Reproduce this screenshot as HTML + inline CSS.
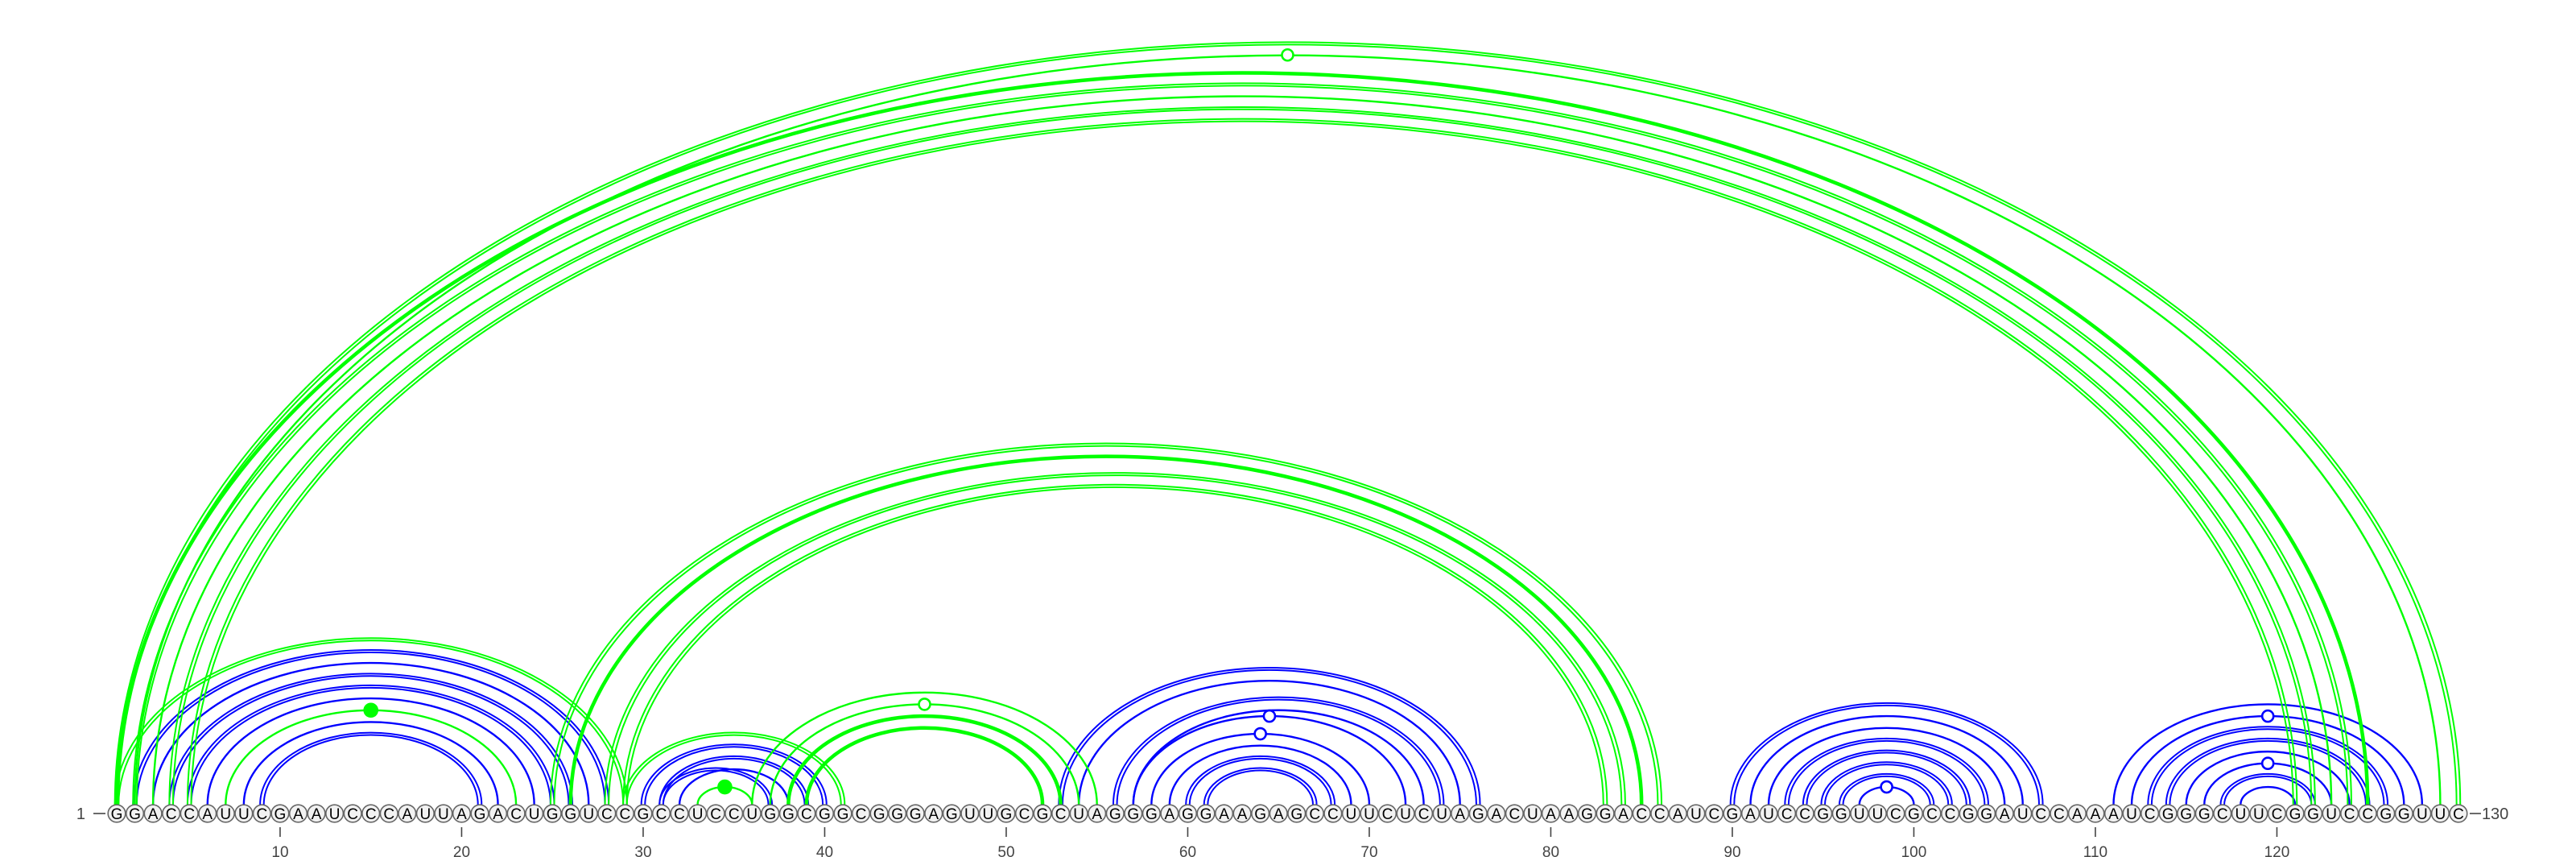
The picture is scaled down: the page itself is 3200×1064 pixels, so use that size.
<!DOCTYPE html>
<html><head><meta charset="utf-8"><style>
html,body{margin:0;padding:0;background:#fff;}
svg{display:block;}
text{font-family:"Liberation Sans",sans-serif;}
</style></head><body>
<svg id="chart" width="3200" height="1064" viewBox="0 0 3200 1064" xmlns="http://www.w3.org/2000/svg">
<g id="arcs"></g>
<g id="nts"></g>
<g id="axis"></g>
</svg>
<script>
const sequence = "GGACCAUUCGAAUCCCAUUAGACUGGUCCGCCUCCUGGCGGCGGGAGUUGCGCUAGGGAGGAAGAGCCUUCUCUAGACUAAGGACCAUCGAUCCGGUUCGCCGGAUCCAAAUCGGGCUUCGGUCCGGUUC";
// pairs: [i, j, style]  style: s single, d double, t thick ; marker: o open, f filled
const greenPairs = [[1,130,"d"],[2,129,"s","o"],[1,125,"t"],[2,124,"d"],[3,123,"s"],[4,122,"d"],[5,121,"d"],
 [25,86,"d"],[26,85,"t"],[28,84,"d"],[29,83,"d"],[1,29,"d"],[29,41,"d"],
 [36,55,"s"],[37,54,"s","o"],[38,53,"t"],[39,52,"t"],[33,36,"s","f"],[7,23,"s","f"]];
const bluePairs = [[2,28,"d"],[3,27,"s"],[4,26,"d"],[5,25,"d"],[6,24,"s"],[8,22,"s"],[9,21,"d"],
 [30,40,"d"],[31,39,"d"],[32,38,"s"],[31,37,"d"],
 [53,76,"d"],[54,75,"s"],[56,74,"d"],[57,73,"s"],[57,72,"s","o"],[58,70,"s","o"],[59,69,"s"],[60,68,"d"],[61,67,"d"],
 [90,107,"d"],[91,106,"s"],[92,105,"s"],[93,104,"d"],[94,103,"d"],[95,102,"d"],[96,101,"d"],[97,100,"s","o"],
 [111,128,"s"],[112,127,"s","o"],[113,126,"d"],[114,125,"d"],[115,124,"s"],[116,123,"s","o"],[117,122,"d"],[118,121,"s"]];
const tickPositions = [10,20,30,40,50,60,70,80,90,100,110,120];

const NS="http://www.w3.org/2000/svg";
const X0=145, DX=22.55, CY=1010, BASE=999, RATIO=0.65;
function xPos(k){return X0+(k-1)*DX;}
function mk(tag,attrs,parent){const e=document.createElementNS(NS,tag);for(const k in attrs)e.setAttribute(k,attrs[k]);parent.appendChild(e);return e;}
const arcs=document.getElementById('arcs');
function arcPath(x1,x2){const rx=(x2-x1)/2, ry=rx*RATIO;return `M${x1},${BASE} A${rx},${ry} 0 0 1 ${x2},${BASE}`;}
function drawPairs(list,color,name){
  list.forEach(p=>{
    const x1=xPos(p[0]), x2=xPos(p[1]);
    const g=mk('g',{},arcs);
    
    
    if(p[2]==="d"){
      mk('path',{d:arcPath(x1-2.3,x2+2.3),fill:'none',stroke:color,'stroke-width':2},g);
      mk('path',{d:arcPath(x1+2.3,x2-2.3),fill:'none',stroke:color,'stroke-width':2},g);
    } else if(p[2]==="t"){
      mk('path',{d:arcPath(x1,x2),fill:'none',stroke:color,'stroke-width':4.5},g);
    } else {
      mk('path',{d:arcPath(x1,x2),fill:'none',stroke:color,'stroke-width':2.4},g);
    }
    if(p[3]){
      const cx=(x1+x2)/2, cy=BASE-(x2-x1)/2*RATIO;
      const m=mk('circle',{cx:cx,cy:cy,r:p[3]==="f"?8:7,fill:p[3]==="f"?color:'#fff',stroke:color,'stroke-width':2.6},g);
      
      
    }
  });
}
drawPairs(bluePairs,'#0000ff','blue-arc');
drawPairs(greenPairs,'#00ff00','green-arc');

const nts=document.getElementById('nts');
for(let i=0;i<sequence.length;i++){
  const g=mk('g',{},nts);
  
  
  mk('circle',{cx:xPos(i+1),cy:CY,r:10.8,fill:'#f2f2f2',stroke:'#666','stroke-width':1.6},g);
  const t=mk('text',{x:xPos(i+1),y:CY+7,'text-anchor':'middle','font-size':19,fill:'#000'},g);
  t.textContent=sequence[i];
}
const axis=document.getElementById('axis');
tickPositions.forEach(p=>{
  const l=mk('line',{x1:xPos(p),x2:xPos(p),y1:1027,y2:1039,stroke:'#444','stroke-width':1.6},axis);
  
  
  const t=mk('text',{x:xPos(p),y:1064,'text-anchor':'middle','font-size':19,fill:'#444'},axis);
  
  
  t.textContent=p;
});
const n=sequence.length;
const sl=mk('text',{x:106,y:1017,'text-anchor':'end','font-size':20,fill:'#444'},axis);


sl.textContent='1';
const sd=mk('line',{x1:116,x2:131,y1:1010,y2:1010,stroke:'#444','stroke-width':1.6},axis);


const ed=mk('line',{x1:xPos(n)+14,x2:xPos(n)+28,y1:1010,y2:1010,stroke:'#444','stroke-width':1.6},axis);


const el=mk('text',{x:xPos(n)+29,y:1017,'text-anchor':'start','font-size':20,fill:'#444'},axis);


el.textContent=String(n);
</script>
</body></html>
